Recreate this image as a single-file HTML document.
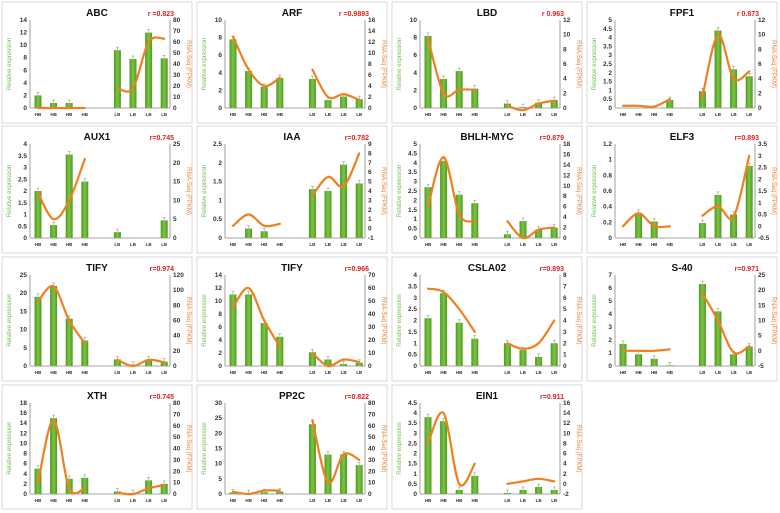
<!DOCTYPE html>
<html><head><meta charset="utf-8">
<style>
html,body{margin:0;padding:0;background:#fff;}
svg{display:block;font-family:"Liberation Sans",sans-serif;}
</style></head>
<body>
<svg id="fig" width="780" height="513" viewBox="0 0 780 513">
<defs>
<linearGradient id="barg" x1="0" x2="1" y1="0" y2="0">
<stop offset="0" stop-color="#4e9a22"/><stop offset="0.5" stop-color="#7cc443"/><stop offset="1" stop-color="#4e9a22"/>
</linearGradient>
</defs>
</svg>
<script>
const titles=["ABC","ARF","LBD","FPF1","AUX1","IAA","BHLH-MYC","ELF3","TIFY","TIFY","CSLA02","S-40","XTH","PP2C","EIN1"];
const rLabels=["r =0.823","r =0.9893","r 0.963","r 0.873","r=0.745","r=0.782","r=0.879","r=0.893","r=0.974","r=0.966","r=0.893","r=0.971","r=0.745","r=0.822","r=0.911"];
const categories=["HB","HB","HB","HB","LB","LB","LB","LB"];
const leftMin=[0,0,0,0,0,0,0,0,0,0,0,0,0,0,0];
const leftMax=[14,10,10,5,4,2.5,5,1.2,25,14,4,7,18,30,4.5];
const leftStep=[2,2,2,0.5,0.5,0.5,0.5,0.2,5,2,0.5,1,2,5,0.5];
const rightMin=[0,0,0,0,0,-1,0,-0.5,0,0,0,-5,0,0,-2];
const rightMax=[80,16,12,12,25,9,18,3.5,120,70,8,25,80,80,16];
const rightStep=[10,2,2,2,5,1,2,0.5,20,10,1,5,10,10,2];
const barValues=[
[2,0.8,0.8,0,9.2,7.8,12,7.9],
[7.8,4.2,2.4,3.4,3.3,0.9,1.3,1.0],
[8.2,3.3,4.2,2.2,0.5,0.1,0.6,0.9],
[0,0,0,0.45,0.95,4.4,2.2,1.8],
[2.0,0.55,3.55,2.4,0.25,0,0,0.75],
[0,0.25,0.18,0,1.3,1.25,1.95,1.45],
[2.7,4.1,2.3,1.85,0.2,0.9,0.45,0.55],
[0,0.32,0.21,0,0.19,0.55,0.3,0.92],
[19,22,13,7,1.8,0.4,1.8,1.2],
[11,11,6.6,4.5,2.1,1,0.3,0.5],
[2.1,3.2,1.9,1.2,1.0,0.7,0.4,1.0],
[1.7,0.9,0.55,0.05,6.3,4.2,0.9,1.5],
[5,15,3,3.2,0.5,0.2,2.7,2],
[0.5,0.3,0.6,0.8,23,13,13,9.5],
[3.8,3.6,0.2,0.9,0.05,0.2,0.35,0.2]];
const lineHB=[
[0,0,0,0],[13,7,4,5.5],[9.5,2,2.5,2.5],[0.3,0.3,0.2,1.2],
[12,5,10,21],[0.3,1.5,0.3,0.5],[6,15.5,4.5,3.2],[0,0.55,0,0],
[85,105,60,30],[45,60,35,15],[6.8,6.5,5,3],[0,0,0,0.5],
[10,65,5,5],[2,0,3,3],[8,14,0,4]];
const lineLB=[
[18,18,60,63],[7,2,2.5,1.5],[0.3,-0.3,0.6,1],[1.5,10,4,5],
null,[3.5,5.5,4.5,8],[3.2,0,1.6,2],[0.45,0.85,0.4,3],
[8,0,8,5],[10,0,5,3],[2,1.5,2,4],[19,10,-0.5,1.5],
[1,0,5,8],[65,10,35,30],[0,0.5,1,0.5]];

const NS="http://www.w3.org/2000/svg";
const svg=document.getElementById('fig');
function mk(tag,attrs,parent){const e=document.createElementNS(NS,tag);for(const k in attrs)e.setAttribute(k,attrs[k]);(parent||svg).appendChild(e);return e;}
function fmt(v){return (Math.round(v*100)/100).toString();}
function spline(pts){
  let d="M"+pts[0][0]+","+pts[0][1];
  const t=1/6;
  for(let i=0;i<pts.length-1;i++){
    const p0=pts[i-1]||pts[i],p1=pts[i],p2=pts[i+1],p3=pts[i+2]||p2;
    const c1=[p1[0]+(p2[0]-p0[0])*t,p1[1]+(p2[1]-p0[1])*t];
    const c2=[p2[0]-(p3[0]-p1[0])*t,p2[1]-(p3[1]-p1[1])*t];
    d+=" C"+c1[0]+","+c1[1]+" "+c2[0]+","+c2[1]+" "+p2[0]+","+p2[1];
  }
  return d;
}
const colX=[2,197,392,587], rowY=[2,126,257,385], rowH=[121,127,124,124];
for(let p=0;p<titles.length;p++){
  const px=colX[p%4], py=rowY[Math.floor(p/4)], ph=rowH[Math.floor(p/4)];
  const g=mk('g',{});
  
  
  const box=mk('rect',{x:px,y:py,width:190,height:ph,fill:'#fff',stroke:'#d9d9d9','stroke-width':1},g);
  
  
  const L=px+28,R=px+168,T=py+18,B=py+ph-7-8;
  const yL=v=>B-(v-leftMin[p])/(leftMax[p]-leftMin[p])*(B-T);
  const yR=v=>B-(v-rightMin[p])/(rightMax[p]-rightMin[p])*(B-T);
  const xC=i=>L+8+i*15.6+(i>=4?17:0);
  const t=mk('text',{x:px+95,y:py+14,'font-size':10,'font-weight':'bold','text-anchor':'middle',fill:'#111'},g);
  t.textContent=titles[p];
  
  
  const r=mk('text',{x:px+172,y:py+14,'font-size':7,'font-weight':'bold','text-anchor':'end',fill:'#e02020'},g);
  r.textContent=rLabels[p];
  
  
  mk('line',{x1:L,y1:T,x2:L,y2:B,stroke:'#888','stroke-width':0.8},g);
  mk('line',{x1:R,y1:T,x2:R,y2:B,stroke:'#888','stroke-width':0.8},g);
  mk('line',{x1:L,y1:yL(0),x2:R,y2:yL(0),stroke:'#888','stroke-width':0.8},g);
  for(let v=leftMin[p];v<=leftMax[p]+1e-9;v+=leftStep[p]){
    const tx=mk('text',{x:L-3,y:yL(v)+2,'font-size':6.5,'font-weight':'bold','text-anchor':'end',fill:'#333'},g);
    tx.textContent=fmt(v);
    
    
  }
  for(let v=rightMin[p];v<=rightMax[p]+1e-9;v+=rightStep[p]){
    const tx=mk('text',{x:R+3,y:yR(v)+2,'font-size':6.5,'font-weight':'bold',fill:'#333'},g);
    tx.textContent=fmt(v);
    
    
  }
  const my=(T+B)/2;
  const ly=mk('text',{x:px+9,y:my,'font-size':6,fill:'#6cc04a','text-anchor':'middle',transform:`rotate(-90 ${px+9} ${my})`},g);
  ly.textContent='Relative expression';
  
  
  const ry=mk('text',{x:R+17,y:my,'font-size':6,fill:'#f08030','text-anchor':'middle',transform:`rotate(90 ${R+17} ${my})`},g);
  ry.textContent='RNA-Seq (FPKM)';
  
  
  barValues[p].forEach((v,i)=>{
    const x=xC(i), y=yL(v);
    const b=mk('rect',{x:x-3.5,y:y,width:7,height:Math.max(0,yL(0)-y),fill:'url(#barg)'},g);
    
    
    if(v>0){mk('line',{x1:x,y1:y-3,x2:x,y2:y,stroke:'#999','stroke-width':0.6},g);
      mk('line',{x1:x-1.5,y1:y-3,x2:x+1.5,y2:y-3,stroke:'#999','stroke-width':0.6},g);}
    const c=mk('text',{x:x,y:B+8,'font-size':4.5,'font-weight':'bold','text-anchor':'middle',fill:'#333'},g);
    c.textContent=categories[i];
    
    
  });
  [[lineHB[p],0],[lineLB[p],4]].forEach(([arr,off])=>{
    if(!arr)return;
    const pts=arr.map((v,i)=>[xC(i+off),yR(v)]);
    const l=mk('path',{d:spline(pts),fill:'none',stroke:'#f07f20','stroke-width':2.2,'stroke-linecap':'round'},g);
    
    
  });
}
</script>
</body></html>
